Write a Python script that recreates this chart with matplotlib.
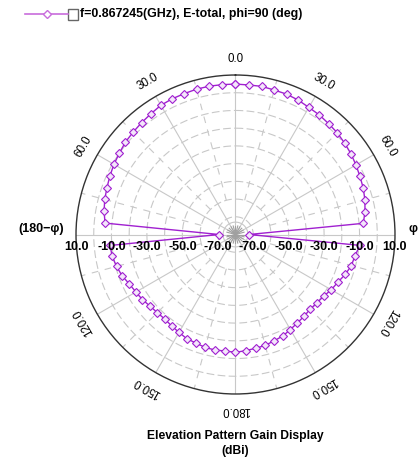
import matplotlib
matplotlib.use("Agg")
import matplotlib.pyplot as plt
import matplotlib.transforms as mtransforms
from matplotlib.patches import Rectangle
import numpy as np

plt.rcParams['font.family'] = ['Liberation Sans', 'DejaVu Sans']

# datos: angulo theta (grados) y ganancia (dBi)
# lado derecho (phi), de 0 a 180
ang_der = np.arange(0, 185, 5)
gan_der = [4.9, 4.7, 4.9, 4.4, 4.3, 3.7, 2.8, 2.4, 1.7, 1.2, 0.3, -0.5,
           -1.5, -2.5, -3.3, -4.4, -5.8, -7.6, -72.4, -9.5, -11.5, -12.3,
           -14.1, -16.3, -17.6, -19.3, -20.0, -20.4, -19.8, -19.1, -18.1,
           -16.8, -16.2, -15.2, -14.8, -14.2, -13.5]
# lado izquierdo (180-phi), de 5 a 175
ang_izq = np.arange(5, 180, 5)
gan_izq = [4.9, 5.0, 4.9, 4.6, 4.5, 4.2, 3.2, 2.4, 1.7, 1.1, 0.0, -0.8,
           -1.8, -2.8, -3.6, -4.7, -6.1, -70.7, -9.0, -9.3, -10.5, -11.9,
           -13.9, -15.1, -15.9, -17.1, -17.6, -17.8, -17.1, -16.2, -15.1,
           -14.8, -14.0, -13.8, -14.0]

etiquetas_theta = [0, 30, 60, 120, 150, 180]
etiquetas_r = [10, -10, -30, -50, -70]
anillos = [-70, -60, -50, -40, -30, -20, -10, 0]
r_min, r_max = -80, 10

leyenda = 'f=0.867245(GHz), E-total, phi=90 (deg)'
color_linea = '#A020D0'
gris = '#C8C8C8'

fig = plt.figure(figsize=(4.19, 4.59), dpi=100)

# capa de fondo para leyenda y titulo (coordenadas en pixeles)
ax0 = fig.add_axes([0, 0, 1, 1])
ax0.set_xlim(0, 419)
ax0.set_ylim(459, 0)
ax0.axis('off')

ax = fig.add_axes([0.1814, 0.1416, 0.7613, 0.695], projection='polar')
ax.set_theta_zero_location('N')
ax.set_theta_direction(-1)
ax.set_ylim(r_min, r_max)
ax.set_xticks([])
ax.set_yticks([])
ax.grid(False)
ax.patch.set_alpha(0)
ax.spines['polar'].set_color('#333333')
ax.spines['polar'].set_linewidth(1.0)

# rejilla
th = np.linspace(0, 2 * np.pi, 361)
for r in anillos:
    ax.plot(th, np.full_like(th, r), color=gris, lw=0.8, ls=(0, (7, 3)), zorder=1)
ax.plot(th, np.full_like(th, -73), color=gris, lw=0.8, zorder=1)
for a in range(0, 360, 30):
    ax.plot([np.deg2rad(a)] * 2, [r_min, r_max], color=gris, lw=0.8, zorder=1)
for a in range(15, 360, 30):
    ax.plot([np.deg2rad(a)] * 2, [-60, r_max], color=gris, lw=0.8,
            ls=(0, (6, 6)), zorder=1)
for a in range(0, 360, 15):
    ax.plot([np.deg2rad(a)] * 2, [r_min, -75], color='#A0A0A0', lw=0.8, zorder=1)

# curva del patron
theta_deg = np.concatenate([ang_der, -ang_izq[::-1], [0]])
ganancia = np.concatenate([gan_der, gan_izq[::-1], [gan_der[0]]])
ax.plot(np.deg2rad(theta_deg), ganancia, color=color_linea, lw=1.0,
        marker='D', ms=3.6, mfc='#F3E6FA', mec=color_linea, mew=0.8, zorder=3)

# etiquetas angulares
for a in etiquetas_theta:
    for s in (1, -1):
        if s == -1 and a in (0, 180):
            continue
        ax.text(np.deg2rad(s * a), r_max + 9.3, f'{a:.1f}', rotation=-s * a,
                rotation_mode='anchor', ha='center', va='center', fontsize=8.3)
ax.text(np.deg2rad(90), r_max + 7.5, 'φ', ha='left', va='bottom',
        fontsize=9, fontweight='bold')
ax.text(np.deg2rad(-90), r_max + 6.8, '(180−φ)', ha='right', va='bottom',
        fontsize=9, fontweight='bold')

# etiquetas radiales
tr = mtransforms.offset_copy(ax.transData, fig=fig, x=0, y=-12.5, units='dots')
for r in etiquetas_r:
    for a in (90, -90):
        ax.text(np.deg2rad(a), r, f'{r:.1f}', transform=tr, ha='center',
                va='center', fontsize=9, fontweight='bold', zorder=4)

# leyenda
ax0.plot([25, 68], [14, 14], color='#C86CDC', lw=1.2)
ax0.plot([47], [14], marker='D', ms=4, mfc='white', mec='#C86CDC', mew=1)
ax0.add_patch(Rectangle((68, 9), 10, 11, fill=False, ec='#666666', lw=1))
ax0.text(80, 14.5, leyenda, ha='left', va='center', fontsize=8.9,
         fontweight='bold')

# titulo
ax0.text(235, 436, 'Elevation Pattern Gain Display', ha='center', va='center',
         fontsize=8.7, fontweight='bold')
ax0.text(235, 451, '(dBi)', ha='center', va='center', fontsize=8.7,
         fontweight='bold')

fig.savefig('out.png', dpi=100)
